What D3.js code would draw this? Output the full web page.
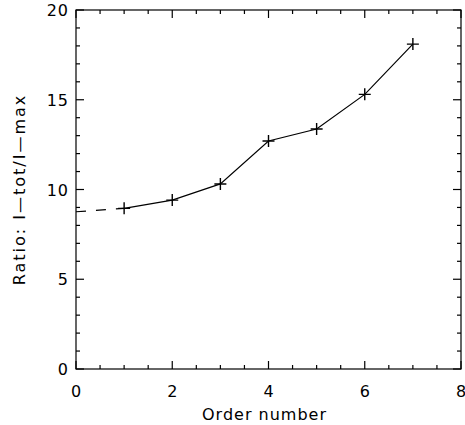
<!DOCTYPE html>
<html>
<head>
<meta http-equiv="Content-Type" content="text/html;charset=utf-8">
<script type="text/javascript" src="https://d3js.org/d3.v7.min.js"></script>
<style>
  body { margin: 0; background: #fff; }
  text { font-family: "DejaVu Sans", sans-serif; fill: #000; letter-spacing: 1px; }
</style>
</head>
<body>
<div id="chart"></div>
<script type="text/javascript">

// order numbers and measured ratios
var orders = [1, 2, 3, 4, 5, 6, 7];
var ratios = [8.95, 9.41, 10.31, 12.70, 13.37, 15.30, 18.10];
// extrapolation back to order 0
var extrapX = [0, 1];
var extrapY = [8.76, 8.95];

var xTicks = [0, 2, 4, 6, 8];
var yTicks = [0, 5, 10, 15, 20];

var width = 465, height = 425;
var margin = {top: 10, right: 4, bottom: 56, left: 76};
var w = width - margin.left - margin.right;
var h = height - margin.top - margin.bottom;

var x = d3.scaleLinear().domain([0, 8]).range([0, w]);
var y = d3.scaleLinear().domain([0, 20]).range([h, 0]);

var svg = d3.select("#chart").append("svg")
    .attr("width", width)
    .attr("height", height)
  .append("g")
    .attr("transform", "translate(" + margin.left + "," + margin.top + ")");

// frame
svg.append("rect")
    .attr("x", 0).attr("y", 0)
    .attr("width", w).attr("height", h)
    .attr("fill", "none")
    .attr("stroke", "#000")
    .attr("stroke-width", 1.2);

var xMinor = d3.range(0, 8.01, 0.5);
var yMinor = d3.range(0, 20.01, 1);

function isMajor(v, step) { return Math.abs(v / step - Math.round(v / step)) < 1e-6; }

// inward ticks on all four sides
var ticks = svg.append("g").attr("stroke", "#000").attr("stroke-width", 1.2);
xMinor.forEach(function (v) {
  var len = isMajor(v, 2) ? 8 : 4;
  ticks.append("line").attr("x1", x(v)).attr("x2", x(v)).attr("y1", h).attr("y2", h - len);
  ticks.append("line").attr("x1", x(v)).attr("x2", x(v)).attr("y1", 0).attr("y2", len);
});
yMinor.forEach(function (v) {
  var len = isMajor(v, 5) ? 8 : 4;
  ticks.append("line").attr("y1", y(v)).attr("y2", y(v)).attr("x1", 0).attr("x2", len);
  ticks.append("line").attr("y1", y(v)).attr("y2", y(v)).attr("x1", w).attr("x2", w - len);
});

// tick labels (the 8 runs off the right edge, as in the original)
svg.selectAll(".xlab")
    .data(xTicks)
  .enter().append("text")
    .attr("class", "xlab")
    .attr("x", function (d) { return x(d) + 0.5; })
    .attr("y", h + 28)
    .attr("text-anchor", "middle")
    .style("font-size", "16px")
    .text(function (d) { return d; });

svg.selectAll(".ylab")
    .data(yTicks)
  .enter().append("text")
    .attr("class", "ylab")
    .attr("x", -7)
    .attr("y", function (d) { return y(d) + 6; })
    .attr("text-anchor", "end")
    .style("font-size", "16px")
    .text(function (d) { return d; });

// axis titles
svg.append("text")
    .attr("x", w / 2 - 4)
    .attr("y", h + 51)
    .attr("text-anchor", "middle")
    .style("font-size", "16px")
    .text("Order number");

svg.append("text")
    .attr("transform", "translate(" + (-51) + "," + (h / 2) + ") rotate(-90)")
    .attr("text-anchor", "middle")
    .style("font-size", "16px")
    .style("letter-spacing", "2px")
    .text("Ratio: I\u2014tot/I\u2014max");

// lines
var line = d3.line()
    .x(function (d) { return x(d[0]); })
    .y(function (d) { return y(d[1]); });

svg.append("path")
    .datum(d3.zip(extrapX, extrapY))
    .attr("d", line)
    .attr("fill", "none")
    .attr("stroke", "#000")
    .attr("stroke-width", 1.2)
    .attr("stroke-dasharray", "10,10");

svg.append("path")
    .datum(d3.zip(orders, ratios))
    .attr("d", line)
    .attr("fill", "none")
    .attr("stroke", "#000")
    .attr("stroke-width", 1.2);

// plus markers
var s = 6;
svg.selectAll(".mark")
    .data(d3.zip(orders, ratios))
  .enter().append("path")
    .attr("class", "mark")
    .attr("d", function (d) {
      var px = x(d[0]), py = y(d[1]);
      return "M" + (px - s) + "," + py + "H" + (px + s) +
             "M" + px + "," + (py - s) + "V" + (py + s);
    })
    .attr("stroke", "#000")
    .attr("stroke-width", 1.4)
    .attr("fill", "none");

</script>
</body>
</html>
